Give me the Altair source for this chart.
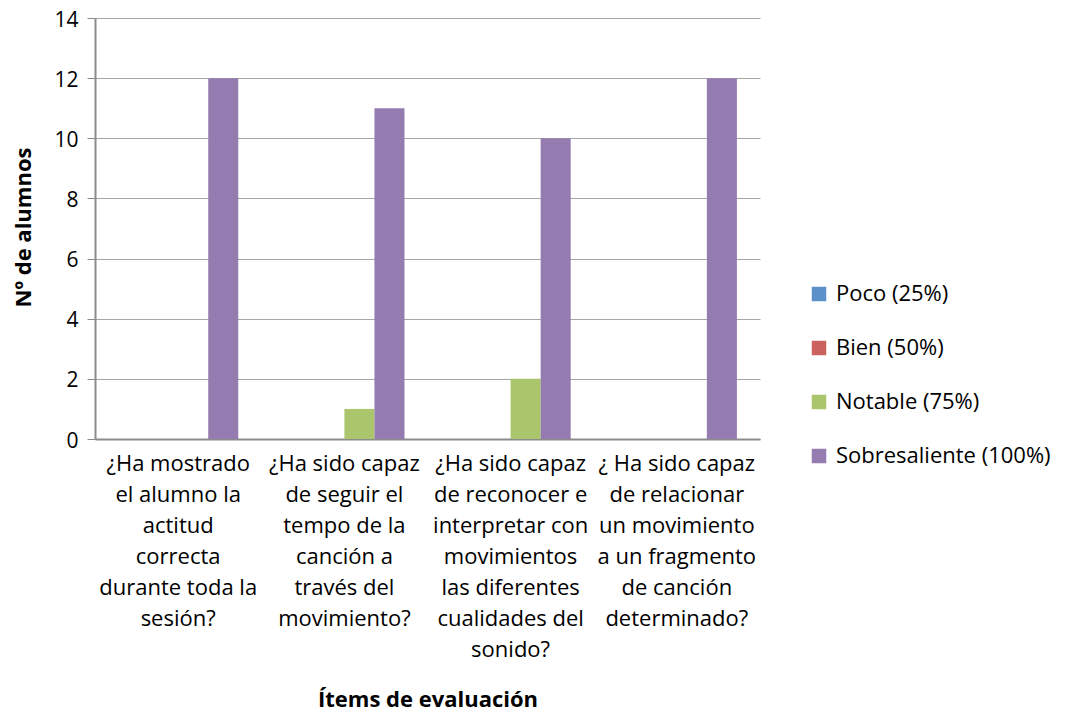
import altair as alt
import pandas as pd

categories = [
    "¿Ha mostrado|el alumno la|actitud|correcta|durante toda la|sesión?",
    "¿Ha sido capaz|de seguir el|tempo de la|canción a|través del|movimiento?",
    "¿Ha sido capaz|de reconocer e|interpretar con|movimientos|las diferentes|cualidades del|sonido?",
    "¿ Ha sido capaz|de relacionar|un movimiento|a un fragmento|de canción|determinado?",
]
series = ["Poco (25%)", "Bien (50%)", "Notable (75%)", "Sobresaliente (100%)"]
poco = [0, 0, 0, 0]
bien = [0, 0, 0, 0]
notable = [0, 1, 2, 0]
sobresaliente = [12, 11, 10, 12]
colors = ["#5B90C8", "#CC625E", "#AAC56B", "#947CB0"]
y_ticks = [0, 2, 4, 6, 8, 10, 12, 14]

rows = []
for s, vals in zip(series, [poco, bien, notable, sobresaliente]):
    for c, v in zip(categories, vals):
        rows.append({"item": c, "serie": s, "valor": v})
df = pd.DataFrame(rows)

FONT = "Open Sans"
FS = 22

chart = alt.Chart(df).mark_bar().encode(
    x=alt.X(
        "item:N",
        sort=categories,
        scale=alt.Scale(paddingInner=0.277, paddingOuter=0.139),
        axis=alt.Axis(
            title="Ítems de evaluación",
            titleFont=FONT,
            titleFontSize=22,
            titleFontWeight="bold",
            titleColor="#000000",
            titleY=267,
            titleBaseline="alphabetic",
            labelExpr="split(datum.label, '|')",
            labelAngle=0,
            labelFont=FONT,
            labelFontSize=FS,
            labelColor="#000000",
            labelLineHeight=31,
            labelPadding=14,
            labelBaseline="top",
            labelLimit=400,
            labelOverlap=False,
            labelBound=False,
            ticks=False,
            domainColor="#8C8C8C",
            domainWidth=2,
        ),
    ),
    xOffset=alt.XOffset("serie:N", sort=series, scale=alt.Scale(paddingInner=0, paddingOuter=0)),
    y=alt.Y(
        "valor:Q",
        scale=alt.Scale(domain=[0, 14], nice=False),
        axis=alt.Axis(
            title="Nº de alumnos",
            titleFont=FONT,
            titleFontSize=22,
            titleFontWeight="bold",
            titleColor="#000000",
            titleX=-65,
            titleY=209,
            titleAngle=-90,
            titleBaseline="alphabetic",
            titleAlign="center",
            values=y_ticks,
            labelFont=FONT,
            labelFontSize=21,
            labelColor="#000000",
            labelPadding=9,
            labelOffset=2,
            tickSize=8,
            tickColor="#8C8C8C",
            domainColor="#8C8C8C",
            domainWidth=2,
            gridColor="#A6A6A6",
            gridWidth=1,
        ),
    ),
    color=alt.Color(
        "serie:N",
        sort=series,
        scale=alt.Scale(domain=series, range=colors),
        legend=alt.Legend(
            title=None,
            orient="none",
            legendX=713,
            legendY=265,
            symbolType="square",
            symbolSize=210,
            symbolStrokeWidth=0,
            labelFont=FONT,
            labelFontSize=FS,
            labelColor="#000000",
            labelOffset=6,
            rowPadding=32,
            labelLimit=400,
        ),
    ),
).properties(
    width=665,
    height=421,
    autosize=alt.AutoSizeParams(type="none"),
    padding={"left": 87, "top": 10, "right": 298, "bottom": 273},
).configure_view(stroke=None)

chart.save("out.html", embed_options={"renderer": "svg", "actions": False})
